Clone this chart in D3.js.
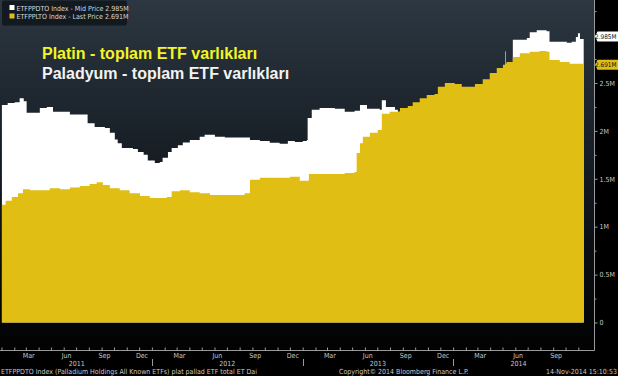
<!DOCTYPE html>
<html>
<head>
<meta charset="utf-8">
<script src="https://cdn.jsdelivr.net/npm/d3@7"></script>
<style>
  html, body { margin: 0; padding: 0; background: #000; }
  svg { display: block; }
</style>
</head>
<body>
<svg id="grafico" width="618" height="376"></svg>
<script>
// Palladium ETF holdings (ETFPPDTO), million oz
const paladyum = [
  ["2011-01-02", 2.27], ["2011-01-16", 2.29], ["2011-02-02", 2.30], ["2011-02-14", 2.34],
  ["2011-02-24", 2.31], ["2011-03-03", 2.19], ["2011-03-23", 2.19], ["2011-04-04", 2.24],
  ["2011-04-21", 2.25], ["2011-05-06", 2.20], ["2011-05-27", 2.20], ["2011-06-16", 2.17],
  ["2011-07-22", 2.17], ["2011-07-29", 2.08], ["2011-08-15", 2.04], ["2011-09-09", 2.03],
  ["2011-09-21", 1.98], ["2011-10-03", 1.91], ["2011-10-10", 1.87], ["2011-10-20", 1.82],
  ["2011-11-16", 1.81], ["2011-11-28", 1.78], ["2011-12-12", 1.75], ["2011-12-22", 1.69],
  ["2012-01-08", 1.665], ["2012-01-20", 1.675], ["2012-01-27", 1.72], ["2012-02-09", 1.78],
  ["2012-02-18", 1.82], ["2012-03-04", 1.85], ["2012-03-16", 1.88], ["2012-04-02", 1.905],
  ["2012-04-26", 1.94], ["2012-05-08", 1.96], ["2012-06-02", 1.94], ["2012-06-26", 1.93],
  ["2012-08-01", 1.93], ["2012-08-26", 1.905], ["2012-09-19", 1.895], ["2012-10-13", 1.875],
  ["2012-11-06", 1.865], ["2012-11-26", 1.895], ["2012-12-13", 1.885], ["2013-01-01", 1.895],
  ["2013-01-11", 1.905], ["2013-01-13", 2.135], ["2013-01-23", 2.22], ["2013-02-11", 2.24],
  ["2013-03-20", 2.23], ["2013-04-13", 2.20], ["2013-05-07", 2.21], ["2013-05-20", 2.27],
  ["2013-06-06", 2.23], ["2013-07-07", 2.22], ["2013-07-12", 2.32], ["2013-07-22", 2.25],
  ["2013-08-13", 2.22], ["2013-08-20", 2.20], ["2013-09-18", 2.20], ["2013-10-24", 2.30],
  ["2013-11-30", 2.40], ["2014-01-17", 2.42], ["2014-03-07", 2.45], ["2014-04-12", 2.58],
  ["2014-05-01", 2.65], ["2014-05-11", 2.71], ["2014-05-26", 2.95], ["2014-06-12", 2.95],
  ["2014-06-29", 2.97], ["2014-07-06", 3.03], ["2014-07-23", 3.05], ["2014-08-16", 3.04],
  ["2014-08-23", 2.93], ["2014-09-17", 2.93], ["2014-10-04", 2.92], ["2014-10-16", 2.93],
  ["2014-10-26", 2.98], ["2014-10-31", 3.02], ["2014-11-05", 2.96], ["2014-11-14", 2.985]
];

// Platinum ETF holdings (ETFPPLTO), million oz
const platin = [
  ["2011-01-02", 1.23], ["2011-01-11", 1.27], ["2011-01-26", 1.31], ["2011-02-10", 1.35],
  ["2011-02-22", 1.39], ["2011-03-11", 1.38], ["2011-04-04", 1.38], ["2011-04-28", 1.40],
  ["2011-05-23", 1.39], ["2011-06-16", 1.41], ["2011-07-10", 1.425], ["2011-08-03", 1.445],
  ["2011-08-20", 1.465], ["2011-09-04", 1.435], ["2011-09-21", 1.40], ["2011-10-15", 1.38],
  ["2011-11-08", 1.35], ["2011-12-03", 1.32], ["2011-12-27", 1.30], ["2012-01-20", 1.30],
  ["2012-02-06", 1.31], ["2012-02-18", 1.37], ["2012-03-09", 1.38], ["2012-04-02", 1.36],
  ["2012-04-26", 1.35], ["2012-05-21", 1.33], ["2012-07-20", 1.33], ["2012-08-13", 1.35],
  ["2012-08-26", 1.49], ["2012-09-19", 1.51], ["2012-10-25", 1.51], ["2012-12-01", 1.52],
  ["2012-12-25", 1.48], ["2013-01-11", 1.48], ["2013-01-16", 1.55], ["2013-03-08", 1.55],
  ["2013-04-13", 1.56], ["2013-05-07", 1.57], ["2013-05-12", 1.77], ["2013-05-20", 1.87],
  ["2013-05-27", 1.94], ["2013-06-13", 1.98], ["2013-07-02", 2.01], ["2013-07-12", 2.18],
  ["2013-07-31", 2.20], ["2013-08-25", 2.24], ["2013-09-13", 2.26], ["2013-09-25", 2.30],
  ["2013-10-12", 2.34], ["2013-10-29", 2.375], ["2013-11-17", 2.385], ["2013-11-25", 2.46],
  ["2013-12-12", 2.50], ["2014-01-05", 2.49], ["2014-01-22", 2.46], ["2014-02-11", 2.46],
  ["2014-02-23", 2.49], ["2014-03-14", 2.54], ["2014-03-31", 2.605], ["2014-04-17", 2.655],
  ["2014-05-02", 2.69], ["2014-05-07", 2.83], ["2014-05-09", 2.70], ["2014-05-11", 2.72],
  ["2014-05-26", 2.77], ["2014-06-12", 2.81], ["2014-07-06", 2.825], ["2014-07-30", 2.835],
  ["2014-08-16", 2.825], ["2014-08-23", 2.74], ["2014-09-17", 2.72], ["2014-10-11", 2.70],
  ["2014-11-14", 2.691]
];

const ayEtiketleri = ["Mar", "Jun", "Sep", "Dec"];
const ayIndeksleri = [2, 5, 8, 11];
const yillar = [2011, 2012, 2013, 2014];
const yTicks = [0, 0.5, 1, 1.5, 2, 2.5];
const yMinorTicks = [0.25, 0.75, 1.25, 1.75, 2.25, 2.75, 3.0, 3.25];
const legendNames = ["ETFPPDTO Index - Mid Price", "ETFPPLTO Index - Last Price"];
const legendLast = ["2.985M", "2.691M"];
const sonDegerler = [2.985, 2.691];
const basliklar = ["Platin - toplam ETF varlıkları", "Paladyum - toplam ETF varlıkları"];

const renkBeyaz = "#ffffff";
const renkSari = "#e0be14";

const parse = d3.timeParse("%Y-%m-%d");
const pd = paladyum.map(d => ({ date: parse(d[0]), v: d[1] }));
const pt = platin.map(d => ({ date: parse(d[0]), v: d[1] }));

const svg = d3.select("#grafico");
const plotW = 594.5, plotH = 350.5;

const defs = svg.append("defs");
const grad = defs.append("linearGradient")
    .attr("id", "fondo")
    .attr("x1", 0).attr("y1", 0).attr("x2", 0).attr("y2", 1);
grad.append("stop").attr("offset", "0%").attr("stop-color", "#2c3741");
grad.append("stop").attr("offset", "35%").attr("stop-color", "#1b232b");
grad.append("stop").attr("offset", "70%").attr("stop-color", "#0b0f13");
grad.append("stop").attr("offset", "100%").attr("stop-color", "#020202");

svg.append("rect").attr("width", 618).attr("height", 376).attr("fill", "#000");
svg.append("rect").attr("x", 0).attr("y", 0).attr("width", plotW).attr("height", plotH)
    .attr("fill", "url(#fondo)");

const x = d3.scaleTime()
    .domain([new Date(2011, 0, 1), new Date(2014, 10, 14)])
    .range([1.5, 583.7]);

const y = d3.scaleLinear()
    .domain([0, 3.366])
    .range([322.5, 0]);

const area = d3.area()
    .x(d => x(d.date))
    .y0(y(0))
    .y1(d => y(d.v))
    .curve(d3.curveStepAfter);

svg.append("path").datum(pd).attr("d", area).attr("fill", renkBeyaz);
svg.append("path").datum(pt).attr("d", area).attr("fill", renkSari);

// sağ eksen
const fuente = "'Liberation Sans Narrow', 'DejaVu Sans Condensed', sans-serif";

const yAxis = svg.append("g")
    .attr("transform", `translate(${plotW},0)`)
    .call(d3.axisRight(y).tickValues(yTicks).tickSize(3).tickPadding(2)
        .tickFormat(d => d === 0 ? "0" : d + "M"));
yAxis.select(".domain").remove();
yAxis.selectAll("line").attr("stroke", "#9a9a9a");
yAxis.selectAll("text").attr("fill", "#c8c8c8").attr("font-size", "7px")
    .attr("font-family", fuente);

const yMinor = svg.append("g")
    .attr("transform", `translate(${plotW},0)`)
    .call(d3.axisRight(y).tickValues(yMinorTicks).tickSize(2).tickFormat(""));
yMinor.select(".domain").remove();
yMinor.selectAll("line").attr("stroke", "#9a9a9a");

svg.append("line").attr("x1", plotW).attr("x2", plotW).attr("y1", 0).attr("y2", plotH)
    .attr("stroke", "#9a9a9a");

// alt eksen
const xAxis = svg.append("g")
    .attr("transform", `translate(0,${plotH})`)
    .call(d3.axisBottom(x).ticks(d3.timeMonth.every(1)).tickSize(-3).tickFormat(""));
xAxis.select(".domain").remove();
xAxis.selectAll("line").attr("stroke", "#9a9a9a");
svg.append("line").attr("x1", 0).attr("x2", plotW).attr("y1", plotH).attr("y2", plotH)
    .attr("stroke", "#9a9a9a");

const end = x.domain()[1];

yillar.forEach(yr => {
    ayIndeksleri.forEach((m, i) => {
        const d = new Date(yr, m, 8);
        if (d > end) return;
        svg.append("text")
            .attr("x", x(d)).attr("y", 358)
            .attr("text-anchor", "middle")
            .attr("font-family", fuente).attr("font-size", "7px")
            .attr("fill", "#c8c8c8")
            .text(ayEtiketleri[i]);
    });
    const a = d3.max([new Date(yr, 0, 1), x.domain()[0]]);
    const b = d3.min([new Date(yr + 1, 0, 1), end]);
    svg.append("text")
        .attr("x", (x(a) + x(b)) / 2).attr("y", 365.5)
        .attr("text-anchor", "middle")
        .attr("font-family", fuente).attr("font-size", "7px")
        .attr("fill", "#c8c8c8")
        .text(yr);
    if (yr > yillar[0]) {
        const xs = Math.round(x(new Date(yr, 0, 1))) + 0.5;
        svg.append("line").attr("x1", xs).attr("x2", xs).attr("y1", 359).attr("y2", 366)
            .attr("stroke", "#9a9a9a");
    }
});

// alt bilgi
svg.append("text").attr("x", 1).attr("y", 373.5)
    .attr("font-family", fuente).attr("font-size", "7px").attr("fill", "#c8c8c8")
    .text("ETFPPDTO Index (Palladium Holdings All Known ETFs) plat pallad ETF total ET  Dai");
svg.append("text").attr("x", 339).attr("y", 373.5)
    .attr("font-family", fuente).attr("font-size", "7px").attr("fill", "#c8c8c8")
    .text("Copyright© 2014 Bloomberg Finance L.P.");
svg.append("text").attr("x", 617).attr("y", 373.5).attr("text-anchor", "end")
    .attr("font-family", fuente).attr("font-size", "7px").attr("fill", "#c8c8c8")
    .text("14-Nov-2014 15:10:53");

// son değer etiketleri
const tagColors = [renkBeyaz, renkSari];
sonDegerler.forEach((v, i) => {
    const cy = y(v);
    const g = svg.append("g");
    g.append("path")
        .attr("d", `M${plotW + 0.5},${cy} L${plotW + 3},${cy - 5} L618,${cy - 5} L618,${cy + 5} L${plotW + 3},${cy + 5} Z`)
        .attr("fill", tagColors[i]);
    g.append("text")
        .attr("x", 616.5).attr("y", cy + 2.3)
        .attr("text-anchor", "end")
        .attr("font-family", fuente).attr("font-size", "6.4px")
        .attr("fill", "#111")
        .text(legendLast[i]);
});

// lejant
const leg = svg.append("g");
leg.append("rect").attr("x", 2).attr("y", 0.5).attr("width", 125).attr("height", 25)
    .attr("rx", 2).attr("fill", "#121a20");
legendNames.forEach((n, i) => {
    leg.append("rect").attr("x", 9.5).attr("y", 5 + i * 8.5).attr("width", 5).attr("height", 5)
        .attr("fill", tagColors[i]);
    leg.append("text").attr("x", 16.5).attr("y", 10.5 + i * 8.5)
        .attr("font-family", fuente).attr("font-size", "7px").attr("fill", "#d8d8d8")
        .text(n + "  " + legendLast[i]);
});

// başlıklar
const baslikRenkleri = ["#f4f428", "#f2f2f2"];
basliklar.forEach((t, i) => {
    svg.append("text")
        .attr("x", 42).attr("y", 58.5 + i * 20.5)
        .attr("font-family", "'Liberation Sans', Arial, sans-serif")
        .attr("font-weight", "bold").attr("font-size", "16px")
        .attr("fill", baslikRenkleri[i])
        .text(t);
});
</script>
</body>
</html>
